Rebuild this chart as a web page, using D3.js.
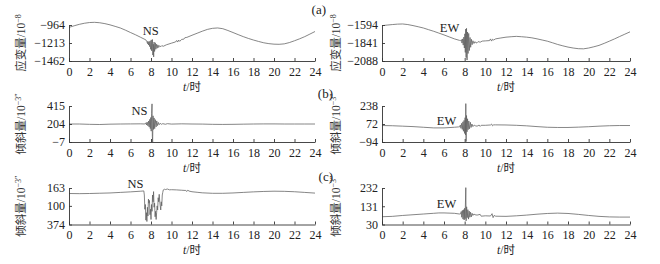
<!DOCTYPE html>
<html>
<head>
<meta charset="utf-8">
<script src="https://cdn.jsdelivr.net/npm/d3@7"></script>
<style>
body { margin: 0; background: #fff; }
</style>
</head>
<body>
<div class="chart"></div>
<script>
//Hours on the x axis
var hourTicks = [0, 2, 4, 6, 8, 10, 12, 14, 16, 18, 20, 22, 24];

//Y tick values and the labels printed in the picture
var aNsTicks = [-1462, -1213, -964];
var aNsLabels = ["\u22121462", "\u22121213", "\u2212964"];
var aEwTicks = [-2088, -1841, -1594];
var aEwLabels = ["\u22122088", "\u22121841", "\u22121594"];
var bNsTicks = [-7, 204, 415];
var bNsLabels = ["\u22127", "204", "415"];
var bEwTicks = [-94, 72, 238];
var bEwLabels = ["\u221294", "72", "238"];
var cNsTicks = [-374, -100, 163];
var cNsLabels = ["374", "100", "163"];
var cEwTicks = [30, 131, 232];
var cEwLabels = ["30", "131", "232"];

//(a) strain NS, [hour, value]
var aNsBase = [[0,-997],[0.5,-975],[1,-955],[1.5,-940],[2,-930],[2.5,-927],[3,-933],[3.5,-945],[4,-962],[4.5,-983],[5,-1005],[5.5,-1035],[6,-1068],[6.5,-1100],[7,-1135],[7.5,-1170],
  [9.5,-1238],[10,-1215],[10.4,-1198],[10.5,-1178],[10.6,-1200],[10.7,-1172],[10.8,-1190],[11,-1163],[11.2,-1160],[11.3,-1140],[11.5,-1135],[12,-1106],[12.5,-1078],[13,-1050],[13.5,-1025],[14,-1010],[14.5,-1005],[15,-1015],[15.5,-1040],[16,-1068],[16.5,-1097],[17,-1125],[17.5,-1150],[18,-1172],[18.5,-1192],[19,-1210],[19.5,-1222],[20,-1229],[20.5,-1231],[21,-1225],[21.5,-1207],[22,-1182],[22.5,-1155],[23,-1125],[23.5,-1090],[24,-1054]];
var aNsBurst = [[7.6,-1195],[7.66,-1222],[7.7,-1188],[7.76,-1240],[7.8,-1200],[7.86,-1262],[7.9,-1185],[7.97,-1300],[8.02,-1170],[8.06,-1320],[8.1,-1215],[8.14,-1165],[8.18,-1380],[8.22,-1230],[8.26,-1405],[8.3,-1200],[8.35,-1330],[8.42,-1210],[8.47,-1300],[8.55,-1230],[8.6,-1285],[8.68,-1240],[8.75,-1275],[8.85,-1250],[8.95,-1265],[9.05,-1250],[9.2,-1258]];

//(a) strain EW
var aEwBase = [[0,-1603],[0.5,-1595],[1,-1588],[1.5,-1582],[2,-1580],[2.5,-1588],[3,-1602],[3.5,-1618],[4,-1635],[4.5,-1658],[5,-1680],[5.5,-1705],[6,-1730],[6.5,-1757],[7,-1784],[7.5,-1805],
  [9.2,-1838],[9.3,-1822],[9.5,-1830],[9.7,-1815],[10,-1812],[10.4,-1808],[10.5,-1785],[10.6,-1815],[10.7,-1790],[10.8,-1800],[11,-1784],[11.5,-1772],[12,-1761],[12.5,-1755],[13,-1750],[13.5,-1755],[14,-1761],[14.5,-1770],[15,-1784],[15.5,-1800],[16,-1816],[16.5,-1838],[17,-1861],[17.5,-1880],[18,-1897],[18.5,-1910],[19,-1919],[19.5,-1921],[20,-1910],[20.5,-1893],[21,-1874],[21.5,-1846],[22,-1816],[22.5,-1785],[23,-1752],[23.5,-1720],[24,-1688]];
var aEwBurst = [[7.6,-1810],[7.68,-1795],[7.74,-1842],[7.8,-1785],[7.86,-1870],[7.92,-1760],[7.97,-1910],[8.02,-1715],[8.06,-1970],[8.1,-1650],[8.14,-2040],[8.18,-1640],[8.23,-2075],[8.28,-1690],[8.33,-1985],[8.39,-1710],[8.45,-1945],[8.52,-1765],[8.58,-1900],[8.65,-1790],[8.72,-1865],[8.8,-1810],[8.9,-1848],[9.0,-1822],[9.1,-1840]];

//(b) tilt NS
var bNsBase = [[0,204],[1,204],[2,200],[3,198],[4,202],[5,204],[6,205],[7,206],
  [9.6,208],[10,203],[11,206],[12,204],[13,203],[14,200],[15,199],[16,200],[17,202],[18,204],[19,205],[20,205],[21,204],[22,204],[23,204],[24,204]];
var bNsBurst = [[7.4,204],[7.5,218],[7.56,192],[7.62,226],[7.7,182],[7.76,238],[7.82,168],[7.88,258],[7.93,150],[7.98,280],[8.02,120],[8.06,330],[8.1,440],[8.13,60],[8.16,-7],[8.2,300],[8.25,140],[8.3,275],[8.36,150],[8.42,255],[8.5,170],[8.56,240],[8.64,185],[8.72,222],[8.8,196],[8.9,212],[9.0,200],[9.15,208],[9.4,201]];

//(b) tilt EW
var bEwBase = [[0,58],[1,56],[2,52],[3,48],[4,42],[5,36],[6,36],[7,42],[7.4,45],
  [9.2,52],[9.4,62],[9.5,50],[9.6,60],[10,60],[10.5,63],[10.6,72],[10.7,55],[10.8,64],[11,64],[12,63],[13,60],[14,55],[15,48],[16,42],[17,40],[18,40],[19,43],[20,47],[21,52],[22,56],[23,58],[24,58]];
var bEwBurst = [[7.5,45],[7.58,62],[7.64,32],[7.7,78],[7.77,22],[7.83,92],[7.88,5],[7.94,105],[7.99,-15],[8.04,130],[8.08,-30],[8.11,260],[8.14,-90],[8.18,150],[8.23,0],[8.28,120],[8.34,20],[8.4,100],[8.47,28],[8.55,88],[8.62,40],[8.7,72],[8.8,48],[8.92,62],[9.05,55]];

//(c) tilt NS
var cNsBase = [[0,82],[1,80],[2,82],[3,86],[4,90],[5,98],[6,106],[7,116],[7.3,120],
  [9.4,140],[9.6,148],[9.8,136],[10,138],[10.5,135],[11,130],[11.4,126],[11.5,112],[11.6,132],[11.7,118],[12,108],[12.5,100],[13,92],[14,85],[15,85],[16,90],[17,98],[18,106],[19,112],[20,116],[21,114],[22,108],[23,98],[24,88]];
var cNsBurst = [[7.35,60],[7.4,-150],[7.45,-80],[7.5,-310],[7.55,-200],[7.6,-330],[7.65,-120],[7.7,-250],[7.75,0],[7.8,-60],[7.85,-20],[7.9,-230],[7.95,-150],[8.0,-300],[8.05,-80],[8.1,-180],[8.15,60],[8.2,-40],[8.25,110],[8.3,-120],[8.35,-60],[8.4,-260],[8.45,-180],[8.5,-300],[8.55,-200],[8.6,-100],[8.65,-160],[8.7,20],[8.75,-40],[8.8,70],[8.85,-30],[8.9,-100],[8.95,-160],[9.0,-40],[9.05,-100],[9.1,60],[9.15,100],[9.2,135],[9.3,145]];

//(c) tilt EW
var cEwBase = [[0,73],[1,75],[2,80],[3,84],[4,88],[5,92],[5.5,94],[6,94],[7,92],[7.5,88],
  [9.2,82],[9.5,86],[9.6,76],[10,78],[10.5,77],[10.65,90],[10.75,68],[10.85,80],[11,76],[12,75],[13,78],[14,82],[15,87],[16,91],[17,93],[18,91],[19,86],[20,80],[21,75],[22,72],[23,71],[24,71]];
var cEwBurst = [[7.6,88],[7.67,102],[7.72,70],[7.78,108],[7.84,60],[7.9,112],[7.95,55],[8.0,120],[8.04,62],[8.08,160],[8.11,234],[8.14,50],[8.19,128],[8.25,68],[8.31,112],[8.37,60],[8.44,104],[8.5,70],[8.57,98],[8.64,72],[8.72,92],[8.8,80],[8.9,88],[9.0,84]];

//Width and height
var w = 660;
var h = 264;

var svg = d3.select(".chart")
    .append("svg")
    .attr("width", w)
    .attr("height", h);

var serif = "'Liberation Serif', 'Times New Roman', serif";
var cjk = "'Noto Sans CJK SC', sans-serif";
var lineColor = "#5e5e5e";

//Panel layout
var cols = [{x0: 69, x1: 315, labelX: 21}, {x0: 382, x1: 630, labelX: 336}];
var rows = [{top: 25, bottom: 61}, {top: 106, bottom: 142}, {top: 188, bottom: 224.5}];

var panels = [
    {row: 0, col: 0, ticks: aNsTicks, labels: aNsLabels, data: aNsBase.concat(aNsBurst), unit: "\u22128", name: "NS", nameT: 7.2, nameY: 35, ylab: "应变量"},
    {row: 0, col: 1, ticks: aEwTicks, labels: aEwLabels, data: aEwBase.concat(aEwBurst), unit: "\u22128", name: "EW", nameT: 5.6, nameY: 32, ylab: "应变量"},
    {row: 1, col: 0, ticks: bNsTicks, labels: bNsLabels, data: bNsBase.concat(bNsBurst), unit: "\u22123\u2033", name: "NS", nameT: 6.1, nameY: 115, ylab: "倾斜量"},
    {row: 1, col: 1, ticks: bEwTicks, labels: bEwLabels, data: bEwBase.concat(bEwBurst), unit: "\u22123\u2033", name: "EW", nameT: 5.3, nameY: 125, ylab: "倾斜量"},
    {row: 2, col: 0, ticks: cNsTicks, labels: cNsLabels, data: cNsBase.concat(cNsBurst), unit: "\u22123\u2033", name: "NS", nameT: 5.7, nameY: 188, ylab: "倾斜量"},
    {row: 2, col: 1, ticks: cEwTicks, labels: cEwLabels, data: cEwBase.concat(cEwBurst), unit: "\u22123\u2033", name: "EW", nameT: 5.3, nameY: 208, ylab: "倾斜量"}
];

panels.forEach(function (p) {
    var c = cols[p.col], r = rows[p.row];
    var data = p.data.slice().sort((a, b) => a[0] - b[0]);

    var xScale = d3.scaleLinear().domain([0, 24]).range([c.x0, c.x1]);
    var yScale = d3.scaleLinear()
        .domain([p.ticks[0], p.ticks[p.ticks.length - 1]])
        .range([r.bottom, r.top]);

    //Curve
    var line = d3.line()
        .x((d) => xScale(d[0]))
        .y((d) => yScale(d[1]));
    svg.append("path")
        .datum(data)
        .attr("d", line)
        .attr("fill", "none")
        .attr("stroke", lineColor)
        .attr("stroke-width", 0.75)
        .attr("stroke-linejoin", "round");

    //Axes
    var xAxis = d3.axisBottom(xScale)
        .tickValues(hourTicks)
        .tickSizeInner(-3)
        .tickSizeOuter(0)
        .tickPadding(6)
        .tickFormat(d3.format("d"));
    var gx = svg.append("g")
        .attr("transform", "translate(0," + r.bottom + ")")
        .call(xAxis);

    var yAxis = d3.axisLeft(yScale)
        .tickValues(p.ticks)
        .tickSizeInner(-3)
        .tickSizeOuter(0)
        .tickPadding(4)
        .tickFormat((d, i) => p.labels[i]);
    var gy = svg.append("g")
        .attr("transform", "translate(" + c.x0 + ",0)")
        .call(yAxis);

    [gx, gy].forEach(function (g) {
        g.select(".domain").attr("stroke", "#333").attr("stroke-width", 0.9);
        g.selectAll(".tick line").attr("stroke", "#333").attr("stroke-width", 0.9);
        g.selectAll("text")
            .attr("fill", "#222")
            .style("font-family", serif)
            .style("font-size", "12px");
    });

    //x axis title
    var xt = svg.append("text")
        .attr("x", (c.x0 + c.x1) / 2)
        .attr("y", r.bottom + 29.5)
        .attr("text-anchor", "middle")
        .attr("fill", "#222")
        .style("font-size", "11.5px");
    xt.append("tspan").style("font-family", serif).style("font-style", "italic").text("t");
    xt.append("tspan").style("font-family", serif).text("/");
    xt.append("tspan").style("font-family", cjk).text("时");

    //y axis title
    var cy = (r.top + r.bottom) / 2;
    var yt = svg.append("text")
        .attr("transform", "translate(" + (c.labelX + 4) + "," + cy + ") rotate(-90)")
        .attr("text-anchor", "middle")
        .attr("fill", "#333")
        .style("font-size", "11.5px");
    yt.append("tspan").style("font-family", cjk).text(p.ylab);
    yt.append("tspan").style("font-family", serif).text("/10");
    yt.append("tspan").style("font-family", serif).style("font-size", "8px")
        .attr("dy", "-4").text(p.unit);

    //Component name
    svg.append("text")
        .attr("x", xScale(p.nameT))
        .attr("y", p.nameY)
        .attr("fill", "#222")
        .style("font-family", serif)
        .style("font-size", "12.5px")
        .text(p.name);
});

//Panel letters
var panelLetters = ["(a)", "(b)", "(c)"];
var letterPos = [[326, 14], [333, 98], [333, 181]];
panelLetters.forEach(function (t, i) {
    svg.append("text")
        .attr("x", letterPos[i][0])
        .attr("y", letterPos[i][1])
        .attr("text-anchor", "end")
        .attr("fill", "#222")
        .style("font-family", serif)
        .style("font-size", "13px")
        .text(t);
});
</script>
</body>
</html>
